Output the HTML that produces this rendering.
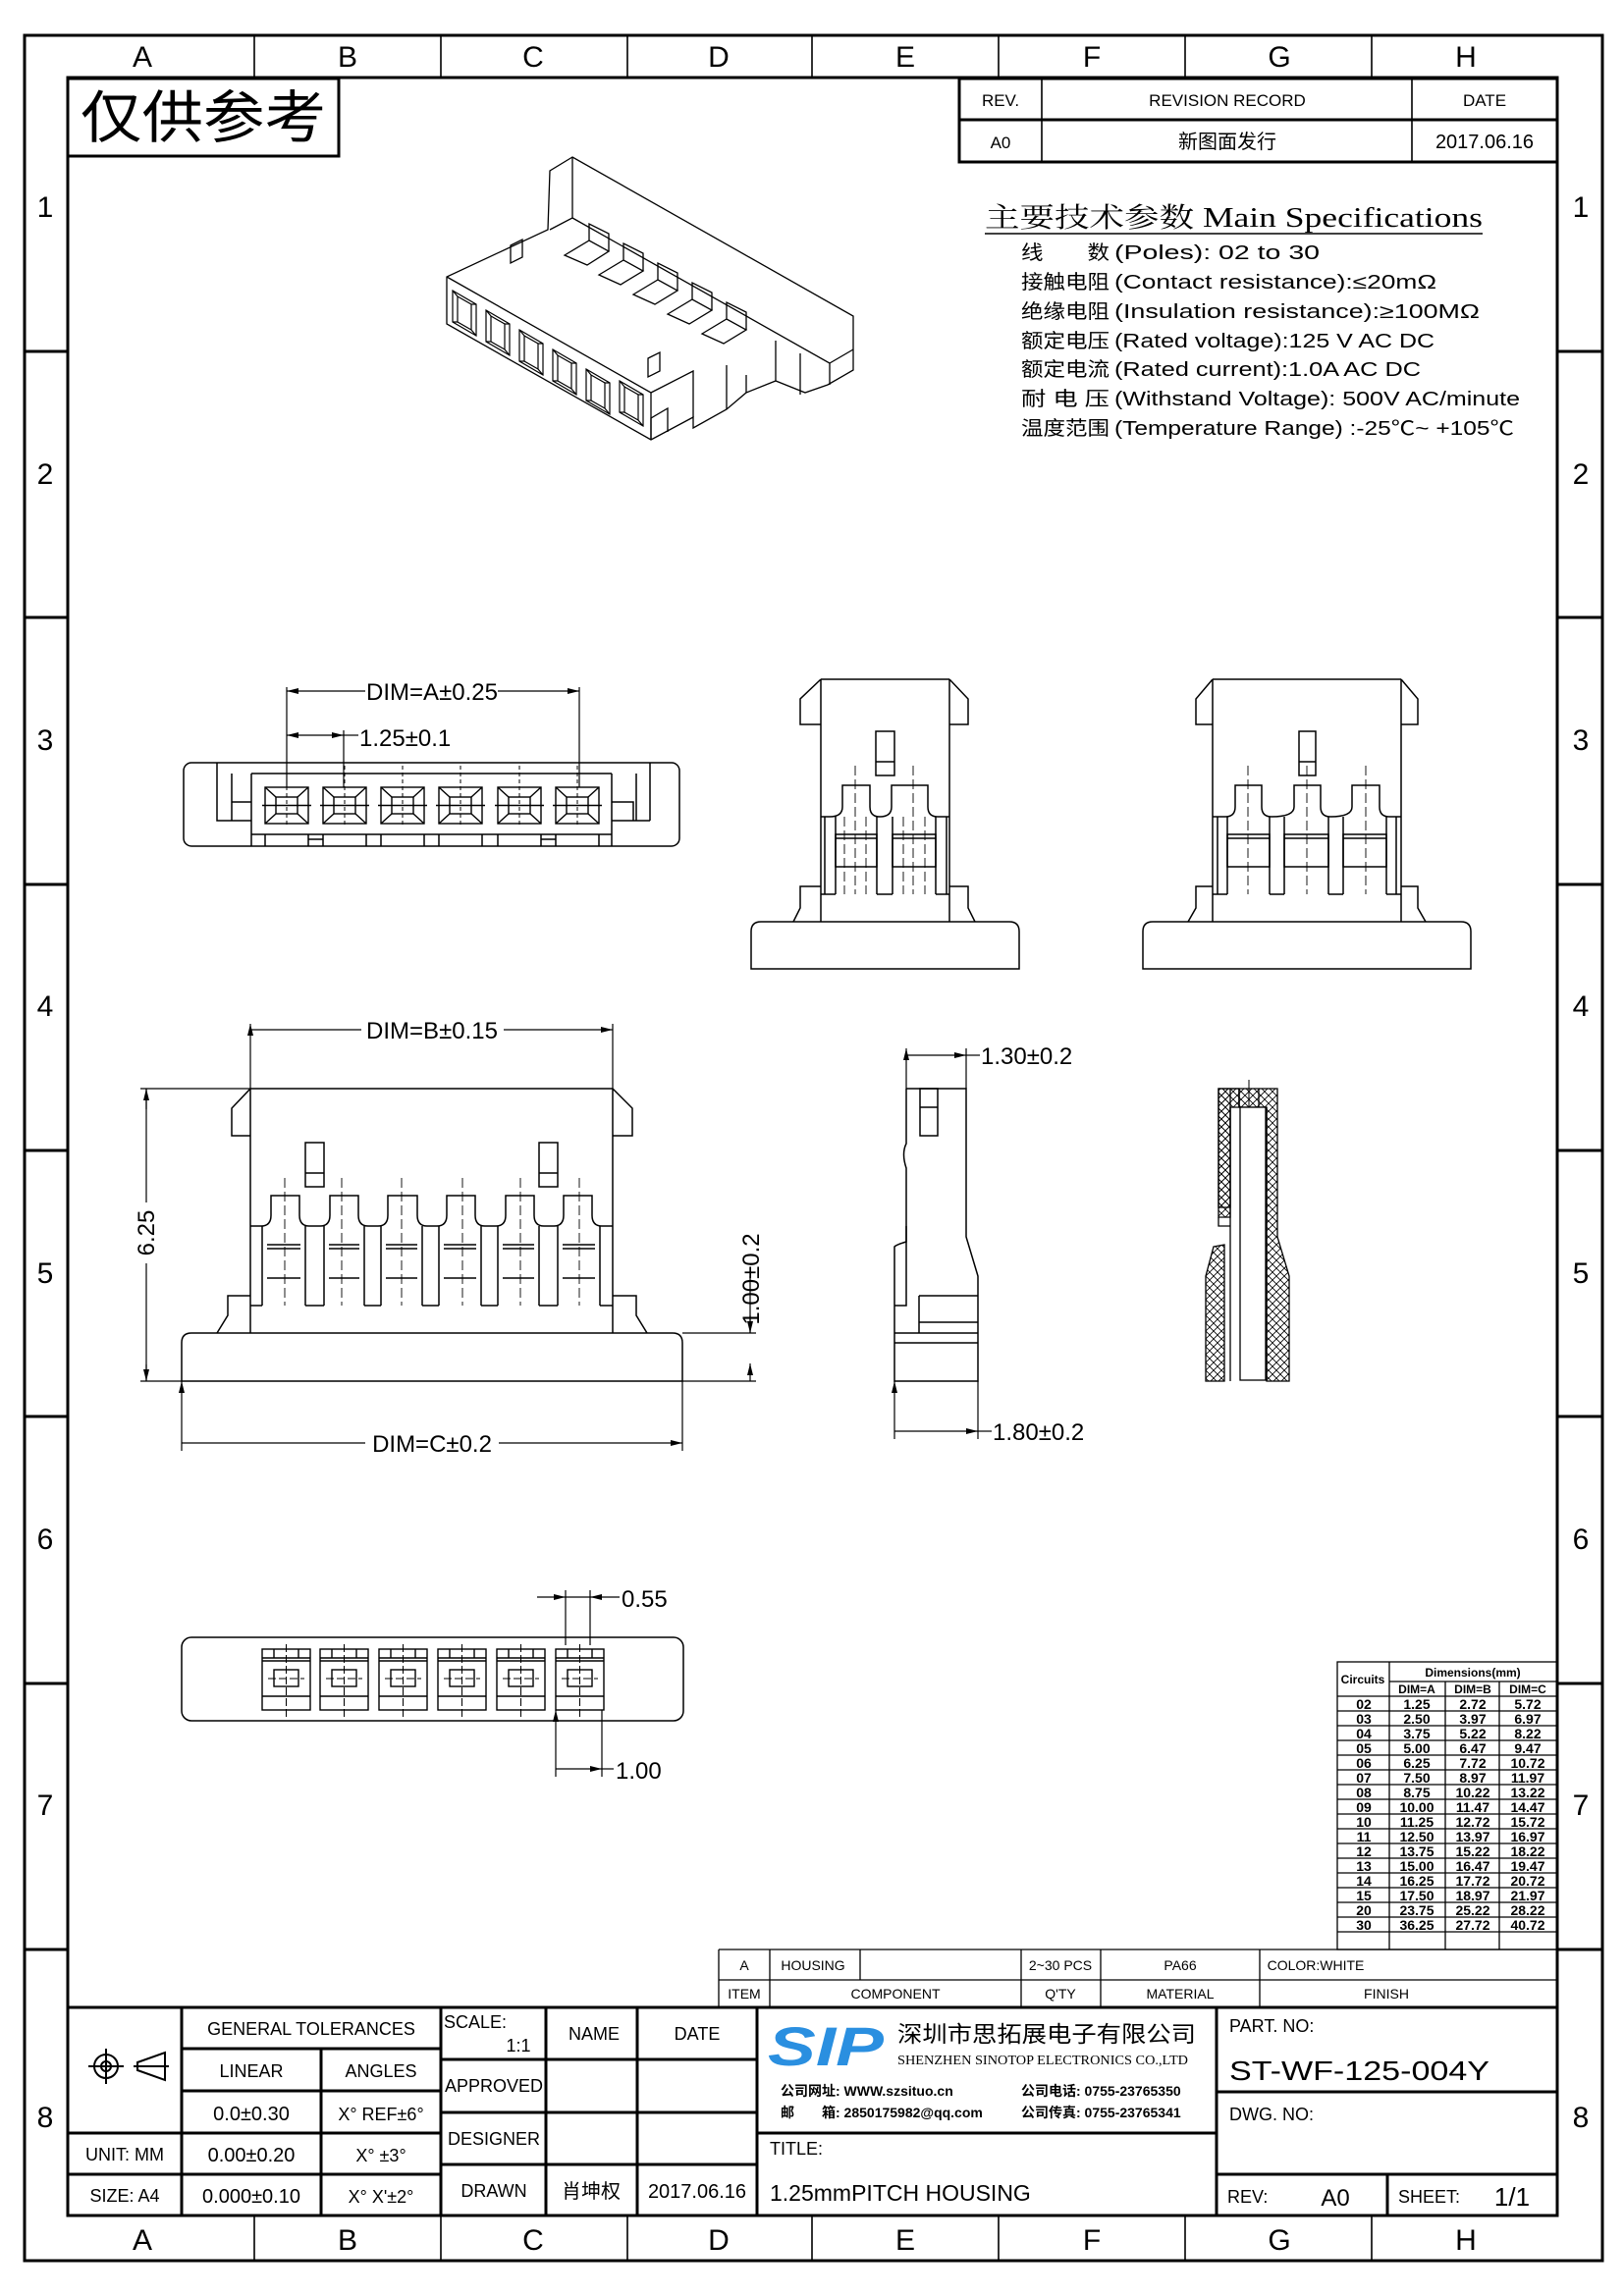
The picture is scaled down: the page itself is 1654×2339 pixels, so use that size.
<!DOCTYPE html>
<html><head><meta charset="utf-8"><style>
html,body{margin:0;padding:0;background:#fff}
svg{display:block}
text{font-family:"Liberation Sans Narrow","Liberation Sans","Noto Sans CJK SC",sans-serif;fill:#000}
.s{font-family:"Liberation Serif","Noto Serif CJK SC","Noto Sans CJK SC",serif}
.c{font-family:"Liberation Sans","Noto Sans CJK SC",sans-serif}
</style></head><body>
<svg width="1654" height="2339" viewBox="0 0 1654 2339" xmlns="http://www.w3.org/2000/svg">
<defs>
<marker id="ar" viewBox="0 0 12 6" refX="12" refY="3" markerWidth="12" markerHeight="6" markerUnits="userSpaceOnUse" orient="auto"><path d="M0,0 L12,3 L0,6 z" fill="#000"/></marker>
<marker id="al" viewBox="0 0 12 6" refX="0" refY="3" markerWidth="12" markerHeight="6" markerUnits="userSpaceOnUse" orient="auto"><path d="M12,0 L0,3 L12,6 z" fill="#000"/></marker>
<pattern id="hx" width="8" height="8" patternUnits="userSpaceOnUse"><path d="M0,0 L8,8 M8,0 L0,8" stroke="#000" stroke-width="0.8"/></pattern>
<g id="cav" fill="none" stroke="#000" stroke-width="1.4">
<rect width="44" height="37"/><rect x="11" y="10" width="22" height="17"/>
<path d="M0,0 L11,10 M44,0 L33,10 M0,37 L11,27 M44,37 L33,27 M-3,18.5 L47,18.5"/>
<path d="M22,-22 L22,40" stroke-dasharray="4,3" stroke-width="1"/>
</g>
<g id="bc" fill="none" stroke="#000" stroke-width="1.4">
<rect width="49" height="62"/><path d="M0,9 L49,9 M0,12 L49,12 M12,0 L12,9 M37,0 L37,9 M0,48 L49,48"/>
<rect x="12" y="21" width="25" height="17"/>
<path d="M24.5,-5 L24.5,70 M6,30 L43,30" stroke-dasharray="8,3" stroke-width="1"/>
</g>
<g id="iso" fill="none" stroke="#000" stroke-width="1.2">
<path d="M0,0 L24,14 L24,46 L0,32 Z"/><path d="M5,6 L19,14 L19,40 L5,32 Z M0,0 L5,6 M24,14 L19,14 M24,46 L19,40 M0,32 L5,32"/>
</g>
</defs>
<rect width="1654" height="2339" fill="#fff"/>
<!-- frames -->
<rect x="25" y="36" width="1607" height="2267" fill="none" stroke="#000" stroke-width="3"/>
<rect x="69" y="79" width="1517" height="2178" fill="none" stroke="#000" stroke-width="3"/>
<g stroke="#000" stroke-width="1.6">
<path d="M259,36V79 M449,36V79 M639,36V79 M827,36V79 M1017,36V79 M1207,36V79 M1397,36V79"/>
<path d="M259,2257V2303 M449,2257V2303 M639,2257V2303 M827,2257V2303 M1017,2257V2303 M1207,2257V2303 M1397,2257V2303"/>
</g>
<g stroke="#000" stroke-width="3">
<path d="M25,358H69 M25,629H69 M25,901H69 M25,1172H69 M25,1443H69 M25,1715H69 M25,1986H69"/>
<path d="M1586,358H1632 M1586,629H1632 M1586,901H1632 M1586,1172H1632 M1586,1443H1632 M1586,1715H1632 M1586,1986H1632"/>
</g>
<g font-size="30" text-anchor="middle">
<text x="145" y="68">A</text><text x="354" y="68">B</text><text x="543" y="68">C</text><text x="732" y="68">D</text><text x="922" y="68">E</text><text x="1112" y="68">F</text><text x="1303" y="68">G</text><text x="1493" y="68">H</text>
<text x="145" y="2292">A</text><text x="354" y="2292">B</text><text x="543" y="2292">C</text><text x="732" y="2292">D</text><text x="922" y="2292">E</text><text x="1112" y="2292">F</text><text x="1303" y="2292">G</text><text x="1493" y="2292">H</text>
</g>
<g font-size="30" text-anchor="middle">
<text x="46" y="221">1</text><text x="46" y="493">2</text><text x="46" y="764">3</text><text x="46" y="1035">4</text><text x="46" y="1307">5</text><text x="46" y="1578">6</text><text x="46" y="1849">7</text><text x="46" y="2167">8</text>
<text x="1610" y="221">1</text><text x="1610" y="493">2</text><text x="1610" y="764">3</text><text x="1610" y="1035">4</text><text x="1610" y="1307">5</text><text x="1610" y="1578">6</text><text x="1610" y="1849">7</text><text x="1610" y="2167">8</text>
</g>
<!-- 仅供参考 -->
<rect x="69" y="80" width="276" height="79" fill="none" stroke="#000" stroke-width="3"/>
<text x="82" y="140" font-size="58" class="c" textLength="250" lengthAdjust="spacingAndGlyphs">仅供参考</text>
<!-- revision -->
<g fill="none" stroke="#000" stroke-width="3"><rect x="977" y="80" width="609" height="85"/><path d="M977,122H1586"/></g>
<g stroke="#000" stroke-width="1.6"><path d="M1061,80V165 M1438,80V165"/></g>
<g font-size="17" text-anchor="middle" class="s">
<text x="1019" y="108">REV.</text><text x="1250" y="108">REVISION RECORD</text><text x="1512" y="108">DATE</text>
<text x="1019" y="151">A0</text><text x="1250" y="151" class="c" font-size="20">新图面发行</text><text x="1512" y="151" font-size="20">2017.06.16</text>
</g>
<!-- specs -->
<text x="1003" y="231" font-size="28" class="s" textLength="507" lengthAdjust="spacingAndGlyphs">主要技术参数 Main Specifications</text>
<path d="M1003,238H1510" stroke="#000" stroke-width="1.6"/>
<g font-size="20" class="s">
<text x="1040" y="264" textLength="90" lengthAdjust="spacingAndGlyphs">线　　数</text><text x="1135" y="264" textLength="209" lengthAdjust="spacingAndGlyphs">(Poles): 02 to 30</text>
<text x="1040" y="294" textLength="90" lengthAdjust="spacingAndGlyphs">接触电阻</text><text x="1135" y="294" textLength="328" lengthAdjust="spacingAndGlyphs">(Contact resistance):≤20mΩ</text>
<text x="1040" y="324" textLength="90" lengthAdjust="spacingAndGlyphs">绝缘电阻</text><text x="1135" y="324" textLength="372" lengthAdjust="spacingAndGlyphs">(Insulation resistance):≥100MΩ</text>
<text x="1040" y="354" textLength="90" lengthAdjust="spacingAndGlyphs">额定电压</text><text x="1135" y="354" textLength="326" lengthAdjust="spacingAndGlyphs">(Rated voltage):125 V AC DC</text>
<text x="1040" y="383" textLength="90" lengthAdjust="spacingAndGlyphs">额定电流</text><text x="1135" y="383" textLength="312" lengthAdjust="spacingAndGlyphs">(Rated current):1.0A AC DC</text>
<text x="1040" y="413" textLength="90" lengthAdjust="spacingAndGlyphs">耐 电 压</text><text x="1135" y="413" textLength="413" lengthAdjust="spacingAndGlyphs">(Withstand Voltage): 500V AC/minute</text>
<text x="1040" y="443" textLength="90" lengthAdjust="spacingAndGlyphs">温度范围</text><text x="1135" y="443" textLength="407" lengthAdjust="spacingAndGlyphs">(Temperature Range) :-25℃~ +105℃</text>
</g>
<!-- iso 3D view -->
<g fill="none" stroke="#000" stroke-width="1.3">
<path d="M583,160 L560,174 L558,234 L455,282 L455,330 L663,448 L706,425 L706,436 L740,417 L760,400 L790,388 L820,400 L843,392 L869,377 L869,322 Z"/>
<path d="M455,282 L663,400 L663,448 M663,400 L706,378 L706,425"/>
<path d="M583,160 L583,222 L560,234 M583,222 L845,370 L845,392 M845,370 L869,356"/>
<path d="M790,347 L790,388 M815,360 L815,402 M740,372 L740,417 M760,382 L760,400"/>
<path d="M575,260 L600,245 L620,256 L598,270 Z M600,245 L600,228 L620,238 L620,256"/>
<path d="M610,280 L635,265 L655,276 L632,290 Z M635,265 L635,248 L655,258 L655,276"/>
<path d="M645,300 L670,285 L690,296 L667,310 Z M670,285 L670,268 L690,278 L690,296"/>
<path d="M680,320 L705,305 L725,316 L702,330 Z M705,305 L705,288 L725,298 L725,316"/>
<path d="M715,340 L740,325 L760,336 L737,350 Z M740,325 L740,308 L760,318 L760,336"/>
<path d="M520,250 L532,244 L532,262 L520,268 Z M660,365 L672,359 L672,378 L660,384 Z"/>
<path d="M663,448 L663,426 L680,416 L680,440"/>
</g>
<use href="#iso" x="461" y="296"/><use href="#iso" x="495" y="316"/><use href="#iso" x="529" y="336"/><use href="#iso" x="563" y="356"/><use href="#iso" x="597" y="376"/><use href="#iso" x="631" y="396" transform="translate(0,-8)"/>

<!-- front top view (row 3 left) -->
<g fill="none" stroke="#000" stroke-width="1.5">
<rect x="187" y="777" width="505" height="85" rx="8"/>
<path d="M256,788H623 M256,788V862 M623,788V862 M256,850H623 M221,777V836H256 M236,788V836 M648,836V788 M662,777V836 M623,836H662 M236,817H256V836 M623,817H645V836"/>
<path d="M270,850V862 M314,850V862 M329,850V862 M373,850V862 M388,850V862 M432,850V862 M447,850V862 M491,850V862 M507,850V862 M551,850V862 M566,850V862 M610,850V862 M314,855H329 M551,855H566"/>
</g>
<use href="#cav" x="270" y="802"/><use href="#cav" x="329" y="802"/><use href="#cav" x="388" y="802"/><use href="#cav" x="447" y="802"/><use href="#cav" x="507" y="802"/><use href="#cav" x="566" y="802"/>
<g stroke="#000" stroke-width="1.2" fill="none">
<path d="M292,700V802 M350,744V802 M590,700V802"/>
<path d="M292,704H590" marker-start="url(#al)" marker-end="url(#ar)"/>
<path d="M292,749H350" marker-start="url(#al)" marker-end="url(#ar)"/>
<path d="M350,749H365"/>
</g>
<rect x="372" y="692" width="135" height="24" fill="#fff"/>
<text x="440" y="713" font-size="24" text-anchor="middle">DIM=A±0.25</text>
<text x="366" y="760" font-size="24">1.25±0.1</text>

<!-- side view 1 -->
<g fill="none" stroke="#000" stroke-width="1.5">
<path d="M836,692H967 M836,692L815,712V738H836 M967,692L986,712V738H967 M836,692V939 M967,692V939"/>
<rect x="892" y="745" width="19" height="45"/><path d="M892,776H911"/>
<path d="M836,832H845Q858,832 858,822V800H886V822Q886,832 896,832Q908,832 908,822V800H945V822Q945,832 955,832H967"/>
<path d="M840,832V911 M851,832V911 M893,832V911 M909,832V911 M953,832V911 M964,832V911 M836,911H851 M893,911H909 M953,911H967"/>
<rect x="851" y="850" width="42" height="33"/><rect x="909" y="850" width="44" height="33"/><path d="M851,854H893 M909,854H953"/>
<path d="M836,903H815V925L808,939 M967,903H986V925L993,939"/>
<path d="M775,939H1028Q1038,939 1038,949V987H765V949Q765,939 775,939Z"/>
</g>
<g stroke="#000" stroke-width="0.9" stroke-dasharray="10,4"><path d="M871,780V911 M930,780V911 M860,832V911 M882,832V911 M920,832V911 M942,832V911"/></g>
<!-- side view 2 -->
<g fill="none" stroke="#000" stroke-width="1.5">
<path d="M1235,692H1427 M1235,692L1218,712V738H1235 M1427,692L1444,712V738H1427 M1235,692V939 M1427,692V939"/>
<rect x="1323" y="745" width="17" height="45"/><path d="M1323,776H1340"/>
<path d="M1235,832H1248Q1258,832 1258,822V800H1285V822Q1285,832 1295,832Q1318,832 1318,822V800H1345V822Q1345,832 1355,832Q1377,832 1377,822V800H1405V822Q1405,832 1415,832H1427"/>
<path d="M1240,832V911 M1250,832V911 M1293,832V911 M1308,832V911 M1353,832V911 M1368,832V911 M1412,832V911 M1422,832V911 M1235,911H1250 M1293,911H1308 M1353,911H1368 M1412,911H1427"/>
<rect x="1250" y="850" width="43" height="33"/><rect x="1308" y="850" width="45" height="33"/><rect x="1368" y="850" width="44" height="33"/>
<path d="M1250,854H1293 M1308,854H1353 M1368,854H1412"/>
<path d="M1235,903H1218V925L1210,939 M1427,903H1444V925L1452,939"/>
<path d="M1174,939H1488Q1498,939 1498,949V987H1164V949Q1164,939 1174,939Z"/>
</g>
<g stroke="#000" stroke-width="0.9" stroke-dasharray="10,4"><path d="M1271,780V911 M1331,780V911 M1391,780V911"/></g>

<!-- main front view -->
<g fill="none" stroke="#000" stroke-width="1.5">
<path d="M255,1109H624 M255,1109L236,1129V1157H255 M624,1109L644,1129V1157H624 M255,1109V1358 M624,1109V1358"/>
<rect x="311" y="1164" width="19" height="45"/><path d="M311,1195H330"/>
<rect x="549" y="1164" width="19" height="45"/><path d="M549,1195H568"/>
<path d="M255,1249H266Q276,1249 276,1238V1218H305V1238Q305,1249 315,1249H326Q336,1249 336,1238V1218H365V1238Q365,1249 375,1249H385Q395,1249 395,1238V1218H425V1238Q425,1249 435,1249H445Q455,1249 455,1238V1218H484V1238Q484,1249 494,1249H505Q515,1249 515,1238V1218H544V1238Q544,1249 554,1249H564Q574,1249 574,1238V1218H603V1238Q603,1249 613,1249H624"/>
<path d="M267,1249V1330 M311,1249V1330 M330,1249V1330 M371,1249V1330 M388,1249V1330 M430,1249V1330 M447,1249V1330 M490,1249V1330 M507,1249V1330 M549,1249V1330 M568,1249V1330 M611,1249V1330 M255,1330H267 M311,1330H330 M371,1330H388 M430,1330H447 M490,1330H507 M549,1330H568 M611,1330H624"/>
<path d="M272,1268H306 M272,1272H306 M272,1302H306 M335,1268H366 M335,1272H366 M335,1302H366 M393,1268H425 M393,1272H425 M393,1302H425 M452,1268H485 M452,1272H485 M452,1302H485 M512,1268H544 M512,1272H544 M512,1302H544 M573,1268H606 M573,1272H606 M573,1302H606"/>
<path d="M255,1320H232V1340L221,1358 M624,1320H648V1340L659,1358"/>
<path d="M195,1358H685Q695,1358 695,1368V1407H185V1368Q185,1358 195,1358Z"/>
</g>
<g stroke="#000" stroke-width="0.9" stroke-dasharray="10,4"><path d="M290,1200V1330 M348,1200V1330 M409,1200V1330 M471,1200V1330 M530,1200V1330 M590,1200V1330"/></g>
<g stroke="#000" stroke-width="1.2" fill="none">
<path d="M255,1043V1109 M624,1043V1109 M255,1049H624" marker-start="url(#al)" marker-end="url(#ar)"/>
<path d="M143,1109H255 M143,1407H185 M149,1109V1407" />
<path d="M149,1109V1130" marker-start="url(#al)"/><path d="M149,1390V1407" marker-end="url(#ar)"/>
<path d="M695,1358H770 M695,1407H770 M764,1300V1358" /><path d="M764,1340V1358" marker-end="url(#ar)"/><path d="M764,1407V1389" marker-end="url(#ar)"/>
<path d="M185,1407V1478 M695,1407V1478 M185,1470H695" marker-start="url(#al)" marker-end="url(#ar)"/>
</g>
<rect x="368" y="1037" width="145" height="24" fill="#fff"/>
<text x="440" y="1058" font-size="24" text-anchor="middle">DIM=B±0.15</text>
<rect x="372" y="1458" width="136" height="24" fill="#fff"/>
<text x="440" y="1479" font-size="24" text-anchor="middle">DIM=C±0.2</text>
<rect x="138" y="1225" width="22" height="62" fill="#fff"/>
<text x="0" y="0" font-size="24" text-anchor="middle" transform="translate(157,1256) rotate(-90)">6.25</text>
<text x="0" y="0" font-size="24" text-anchor="middle" transform="translate(773,1303) rotate(-90)">1.00±0.2</text>

<!-- side profile -->
<g fill="none" stroke="#000" stroke-width="1.5">
<path d="M923,1109H984V1260L996,1300V1407H911V1270Q913,1268 923,1265V1249H923V1190Q918,1175 923,1165V1109"/>
<rect x="937" y="1109" width="18" height="48"/><path d="M937,1128H955"/>
<path d="M923,1249V1330H911 M936,1320H996 M936,1320V1358 M936,1347H996 M911,1358H996 M911,1368H996"/>
</g>
<g stroke="#000" stroke-width="1.2" fill="none">
<path d="M923,1068V1109 M984,1068V1109 M923,1075H984" marker-start="url(#al)" marker-end="url(#ar)"/><path d="M984,1075H998"/>
<path d="M911,1407V1466 M996,1407V1466 M911,1458H996" marker-start="url(#al)" marker-end="url(#ar)"/><path d="M996,1458H1010"/>
</g>
<text x="999" y="1084" font-size="24">1.30±0.2</text>
<text x="1011" y="1467" font-size="24">1.80±0.2</text>

<!-- section -->
<g stroke="#000" stroke-width="1.3">
<path d="M1241,1109H1301V1260L1313,1300V1407H1290V1128H1262V1109H1253V1240H1241Z" fill="url(#hx)"/>
<path d="M1241,1109H1262V1128H1253V1230H1241Z" fill="url(#hx)"/>
<path d="M1236,1270L1247,1268V1407H1228V1300Z" fill="url(#hx)"/>
<path d="M1253,1128V1407 M1290,1128V1407 M1262,1109V1128 M1282,1109V1128" fill="none"/>
<path d="M1241,1240V1249H1253" fill="none"/>
<path d="M1272,1100V1140" fill="none" stroke-width="1"/>
</g>
<rect x="1263" y="1128" width="26" height="278" fill="#fff" stroke="#000" stroke-width="1.3"/>

<!-- bottom view -->
<rect x="185" y="1668" width="511" height="85" rx="10" fill="none" stroke="#000" stroke-width="1.5"/>
<use href="#bc" x="267" y="1680"/><use href="#bc" x="326" y="1680"/><use href="#bc" x="386" y="1680"/><use href="#bc" x="446" y="1680"/><use href="#bc" x="506" y="1680"/><use href="#bc" x="566" y="1680"/>
<g stroke="#000" stroke-width="1.2" fill="none">
<path d="M576,1620V1676 M601,1620V1676 M547,1627H576" marker-end="url(#ar)"/><path d="M631,1627H601" marker-end="url(#ar)"/><path d="M576,1627H601"/>
<path d="M566,1742V1810 M613,1742V1810 M566,1802H613" marker-start="url(#al)" marker-end="url(#ar)"/><path d="M613,1802H625"/>
</g>
<text x="633" y="1637" font-size="24">0.55</text>
<text x="627" y="1812" font-size="24">1.00</text>

<!-- dims table -->
<g fill="none" stroke="#000" stroke-width="1.3">
<rect x="1362" y="1693" width="224" height="293"/>
<path d="M1415,1693V1986 M1472,1713V1986 M1527,1713V1986 M1415,1713H1586 M1362,1728H1586"/>
<path d="M1362,1743H1586 M1362,1758H1586 M1362,1773H1586 M1362,1788H1586 M1362,1803H1586 M1362,1818H1586 M1362,1833H1586 M1362,1848H1586 M1362,1863H1586 M1362,1878H1586 M1362,1893H1586 M1362,1908H1586 M1362,1923H1586 M1362,1938H1586 M1362,1953H1586 M1362,1968H1586"/>
</g>
<g font-size="12" font-weight="bold" text-anchor="middle" class="s">
<text x="1388" y="1715">Circuits</text><text x="1500" y="1708">Dimensions(mm)</text>
<text x="1443" y="1725">DIM=A</text><text x="1500" y="1725">DIM=B</text><text x="1556" y="1725">DIM=C</text>
</g>
<g font-size="14" font-weight="bold" text-anchor="middle" class="s">
<text x="1389" y="1741">02</text><text x="1443" y="1741">1.25</text><text x="1500" y="1741">2.72</text><text x="1556" y="1741">5.72</text>
<text x="1389" y="1756">03</text><text x="1443" y="1756">2.50</text><text x="1500" y="1756">3.97</text><text x="1556" y="1756">6.97</text>
<text x="1389" y="1771">04</text><text x="1443" y="1771">3.75</text><text x="1500" y="1771">5.22</text><text x="1556" y="1771">8.22</text>
<text x="1389" y="1786">05</text><text x="1443" y="1786">5.00</text><text x="1500" y="1786">6.47</text><text x="1556" y="1786">9.47</text>
<text x="1389" y="1801">06</text><text x="1443" y="1801">6.25</text><text x="1500" y="1801">7.72</text><text x="1556" y="1801">10.72</text>
<text x="1389" y="1816">07</text><text x="1443" y="1816">7.50</text><text x="1500" y="1816">8.97</text><text x="1556" y="1816">11.97</text>
<text x="1389" y="1831">08</text><text x="1443" y="1831">8.75</text><text x="1500" y="1831">10.22</text><text x="1556" y="1831">13.22</text>
<text x="1389" y="1846">09</text><text x="1443" y="1846">10.00</text><text x="1500" y="1846">11.47</text><text x="1556" y="1846">14.47</text>
<text x="1389" y="1861">10</text><text x="1443" y="1861">11.25</text><text x="1500" y="1861">12.72</text><text x="1556" y="1861">15.72</text>
<text x="1389" y="1876">11</text><text x="1443" y="1876">12.50</text><text x="1500" y="1876">13.97</text><text x="1556" y="1876">16.97</text>
<text x="1389" y="1891">12</text><text x="1443" y="1891">13.75</text><text x="1500" y="1891">15.22</text><text x="1556" y="1891">18.22</text>
<text x="1389" y="1906">13</text><text x="1443" y="1906">15.00</text><text x="1500" y="1906">16.47</text><text x="1556" y="1906">19.47</text>
<text x="1389" y="1921">14</text><text x="1443" y="1921">16.25</text><text x="1500" y="1921">17.72</text><text x="1556" y="1921">20.72</text>
<text x="1389" y="1936">15</text><text x="1443" y="1936">17.50</text><text x="1500" y="1936">18.97</text><text x="1556" y="1936">21.97</text>
<text x="1389" y="1951">20</text><text x="1443" y="1951">23.75</text><text x="1500" y="1951">25.22</text><text x="1556" y="1951">28.22</text>
<text x="1389" y="1966">30</text><text x="1443" y="1966">36.25</text><text x="1500" y="1966">27.72</text><text x="1556" y="1966">40.72</text>
</g>

<!-- material table -->
<g fill="none" stroke="#000" stroke-width="1.3">
<path d="M732,1986H1586 M732,2017H1586 M732,1986V2045 M784,1986V2045 M876,1986V2017 M1040,1986V2045 M1121,1986V2045 M1283,1986V2045"/>
</g>
<g font-size="14" text-anchor="middle">
<text x="758" y="2007">A</text><text x="828" y="2007">HOUSING</text><text x="1080" y="2007">2~30 PCS</text><text x="1202" y="2007">PA66</text><text x="1340" y="2007">COLOR:WHITE</text>
<text x="758" y="2036">ITEM</text><text x="912" y="2036">COMPONENT</text><text x="1080" y="2036">Q'TY</text><text x="1202" y="2036">MATERIAL</text><text x="1412" y="2036">FINISH</text>
</g>

<!-- title block -->
<path d="M69,2045H1586" stroke="#000" stroke-width="3"/>
<g fill="none" stroke="#000" stroke-width="3">
<path d="M185,2045V2257 M327,2087V2257 M449,2045V2257 M556,2045V2257 M649,2045V2257 M771,2045V2257 M1239,2045V2257 M1413,2215V2257"/>
<path d="M185,2087H449 M185,2130H449 M69,2173H449 M69,2215H449 M449,2098H771 M449,2152H771 M449,2205H771 M771,2173H1239 M1239,2131H1586 M1239,2215H1586"/>
</g>
<g font-size="18" text-anchor="middle" class="s">
<text x="317" y="2073">GENERAL TOLERANCES</text>
<text x="256" y="2116">LINEAR</text><text x="388" y="2116">ANGLES</text>
<text x="256" y="2160" font-size="20">0.0±0.30</text><text x="388" y="2160">X° REF±6°</text>
<text x="127" y="2201">UNIT: MM</text><text x="256" y="2202" font-size="20">0.00±0.20</text><text x="388" y="2202">X° ±3°</text>
<text x="127" y="2243">SIZE: A4</text><text x="256" y="2244" font-size="20">0.000±0.10</text><text x="388" y="2244">X° X'±2°</text>
<text x="484" y="2066" text-anchor="middle">SCALE:</text><text x="528" y="2090">1:1</text>
<text x="605" y="2078">NAME</text><text x="710" y="2078">DATE</text>
<text x="503" y="2131">APPROVED</text><text x="503" y="2185">DESIGNER</text><text x="503" y="2238">DRAWN</text>
<text x="602" y="2239" class="c" font-size="20">肖坤权</text><text x="710" y="2239" font-size="20">2017.06.16</text>
<text x="784" y="2195" text-anchor="start">TITLE:</text>
<text x="784" y="2242" text-anchor="start" font-size="23">1.25mmPITCH HOUSING</text>
<text x="1252" y="2070" text-anchor="start">PART. NO:</text>
<text x="1252" y="2119" text-anchor="start" font-size="28" class="c" textLength="265" lengthAdjust="spacingAndGlyphs">ST-WF-125-004Y</text>
<text x="1252" y="2160" text-anchor="start">DWG. NO:</text>
<text x="1250" y="2244" text-anchor="start">REV:</text><text x="1360" y="2247" font-size="24">A0</text>
<text x="1424" y="2244" text-anchor="start">SHEET:</text><text x="1540" y="2247" font-size="26">1/1</text>
</g>
<!-- symbol -->
<g fill="none" stroke="#000" stroke-width="2">
<circle cx="108" cy="2105" r="12"/><circle cx="108" cy="2105" r="5"/><path d="M90,2105H126 M108,2087V2123"/>
<path d="M140,2101L168,2091V2119L140,2109Z M136,2105H172" stroke-dasharray="none"/>
</g>
<!-- logo -->
<text x="782" y="2104" font-size="56" font-weight="bold" font-style="italic" fill="#2a8fe0" class="c" style="fill:#2a8fe0" textLength="118" lengthAdjust="spacingAndGlyphs">SIP</text>
<text x="914" y="2080" font-size="23" class="c" textLength="304" lengthAdjust="spacingAndGlyphs">深圳市思拓展电子有限公司</text>
<text x="914" y="2103" font-size="14" class="s" textLength="296" lengthAdjust="spacingAndGlyphs">SHENZHEN SINOTOP ELECTRONICS CO.,LTD</text>
<g font-size="14" font-weight="bold" class="c">
<text x="795" y="2135">公司网址: WWW.szsituo.cn</text><text x="1040" y="2135">公司电话: 0755-23765350</text>
<text x="795" y="2157">邮　　箱: 2850175982@qq.com</text><text x="1040" y="2157">公司传真: 0755-23765341</text>
</g>
</svg>
</body></html>
